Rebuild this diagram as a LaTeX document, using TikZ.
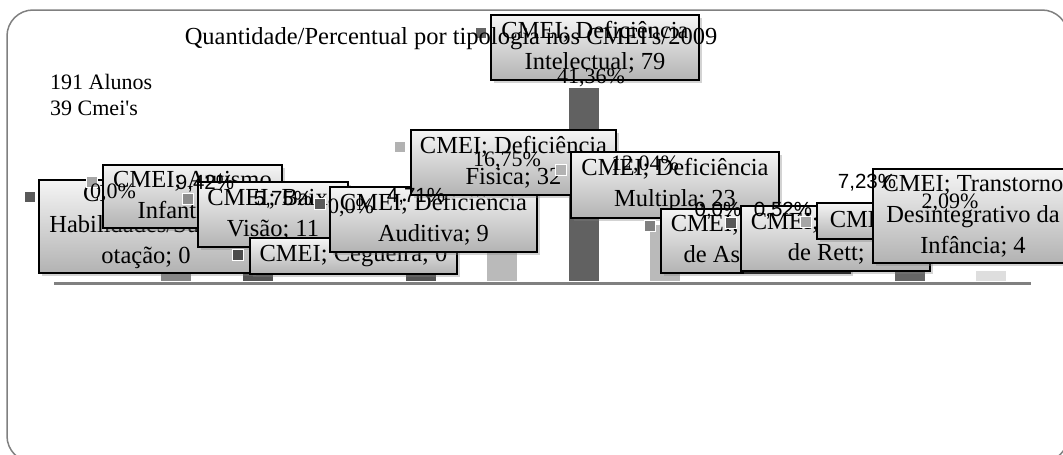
\documentclass[tikz,border=0pt]{standalone}
\usepackage{fontspec}
\setmainfont{Liberation Serif}[Ligatures=TeXOff]
\newfontfamily\pctsans{Liberation Sans}
\usetikzlibrary{shadows}

\begin{document}
\begin{tikzpicture}[x=1pt,y=-1pt,
  lbl/.style={draw,line width=1.8pt,align=center,inner sep=0pt,
    top color=black!4,bottom color=black!30,
    drop shadow={shadow xshift=3pt,shadow yshift=-3pt,opacity=.35},
    font=\fontsize{24.5}{31}\selectfont},
  pct/.style={inner sep=0pt,font=\fontsize{22}{24}\selectfont},
  pcts/.style={inner sep=0pt,font=\pctsans\fontsize{20.5}{24}\selectfont},
  keysq/.style={draw=white,line width=1.2pt,fill=#1,minimum size=11pt,inner sep=0pt}]
  \useasboundingbox (0,0) rectangle (1063,455);
  % outer frame of the chart
  \draw[black!50,line width=1.5pt,rounded corners=26pt] (7,10) rectangle (1068,462);
  % bars and axis
  \foreach \k/\h/\c in {2/44/black!47,3/27/black!67,5/22/black!67,6/78/black!27,
                        7/193/black!62,8/56/black!27,11/34/black!60,12/10/black!13}
    \fill[\c] ({94.5+81.5*(\k-1)-15},281) rectangle ++(30,-\h);
  \draw[black!50,line width=3pt] (54,283) -- (1031,283);
  % data labels
  \node[keysq=black!65] (k1) at (30,197) {};
  \node[lbl,minimum width=214pt,minimum height=93pt] (b1) at (146,226.5)
    {CMEI; Altas\\Habilidades/Superd\\otação; 0};
  \node[keysq=black!35] (k2) at (92,182) {};
  \node[lbl,minimum width=179pt,minimum height=63pt] (b2) at (192.5,196.5)
    {CMEI; Autismo\\Infantil; 18};
  \node[keysq=black!45] (k3) at (188,199) {};
  \node[lbl,minimum width=150pt,minimum height=65pt] (b3) at (273,214.5)
    {CMEI; Baixa\\Visão; 11};
  \node[keysq=black!70] (k4) at (238,255) {};
  \node[lbl,minimum width=207pt,minimum height=36pt] (b4) at (353.5,256)
    {CMEI; Cegueira; 0};
  \node[keysq=black!65] (k5) at (320,204) {};
  \node[lbl,minimum width=207pt,minimum height=65pt] (b5) at (433.5,219.5)
    {CMEI; Deficiência\\Auditiva; 9};
  \node[keysq=black!30] (k6) at (400,147) {};
  \node[lbl,minimum width=205pt,minimum height=65pt] (b6) at (513.5,162.5)
    {CMEI; Deficiência\\Fisica; 32};
  \node[keysq=black!60] (k7) at (481,33) {};
  \node[lbl,minimum width=208pt,minimum height=65pt] (b7) at (595,47.5)
    {CMEI; Deficiência\\Intelectual; 79};
  \node[keysq=black!30] (k8) at (561,170) {};
  \node[lbl,minimum width=208pt,minimum height=66pt] (b8) at (675,185)
    {CMEI; Deficiência\\Multipla; 23};
  \node[keysq=black!50] (k9) at (650,226) {};
  \node[lbl,minimum width=189pt,minimum height=64pt] (b9) at (755.5,241)
    {CMEI; Síndrome\\de Asperger; 0};
  \node[keysq=black!65] (k10) at (731,223) {};
  \node[lbl,minimum width=189pt,minimum height=65pt] (b10) at (835.5,238.5)
    {CMEI; Síndrome\\de Rett; 1};
  \node[keysq=black!35] (k11) at (806,222) {};
  \node[lbl,minimum width=204pt,minimum height=36pt] (b11) at (919,221)
    {CMEI; Outros; 14};
  \node[lbl,minimum width=200pt,minimum height=94pt] (b12) at (973,216)
    {CMEI; Transtorno\\Desintegrativo da\\Infância; 4};
  % percentages
  \node[pct] (p1) at (113,193) {0,0\%};
  \node[pcts] (p2) at (205,184) {9,42\%};
  \node[pcts] (p3) at (283,200) {5,75\%};
  \node[pct] (p4) at (351,208) {0,0\%};
  \node[pcts] (p5) at (416,197) {4,71\%};
  \node[pct] (p6) at (507,161) {16,75\%};
  \node[pct] (p7) at (591,78) {41,36\%};
  \node[pct] (p8) at (645,165) {12,04\%};
  \node[pcts] (p9) at (718,211) {0,0\%};
  \node[pcts] (p10) at (783,211) {0,52\%};
  \node[pcts] (p11) at (867,183) {7,23\%};
  \node[pct] (p12) at (950,203) {2,09\%};
  % title and totals
  \node[inner sep=0pt,font=\fontsize{24.5}{28}\selectfont] (title) at (451,39)
    {Quantidade/Percentual por tipologia nos CMEI's/2009};
  \node[inner sep=0pt,anchor=west,align=left,font=\fontsize{22}{26}\selectfont] (totals) at (50,95)
    {191 Alunos\\39 Cmei's};
\end{tikzpicture}
\end{document}
